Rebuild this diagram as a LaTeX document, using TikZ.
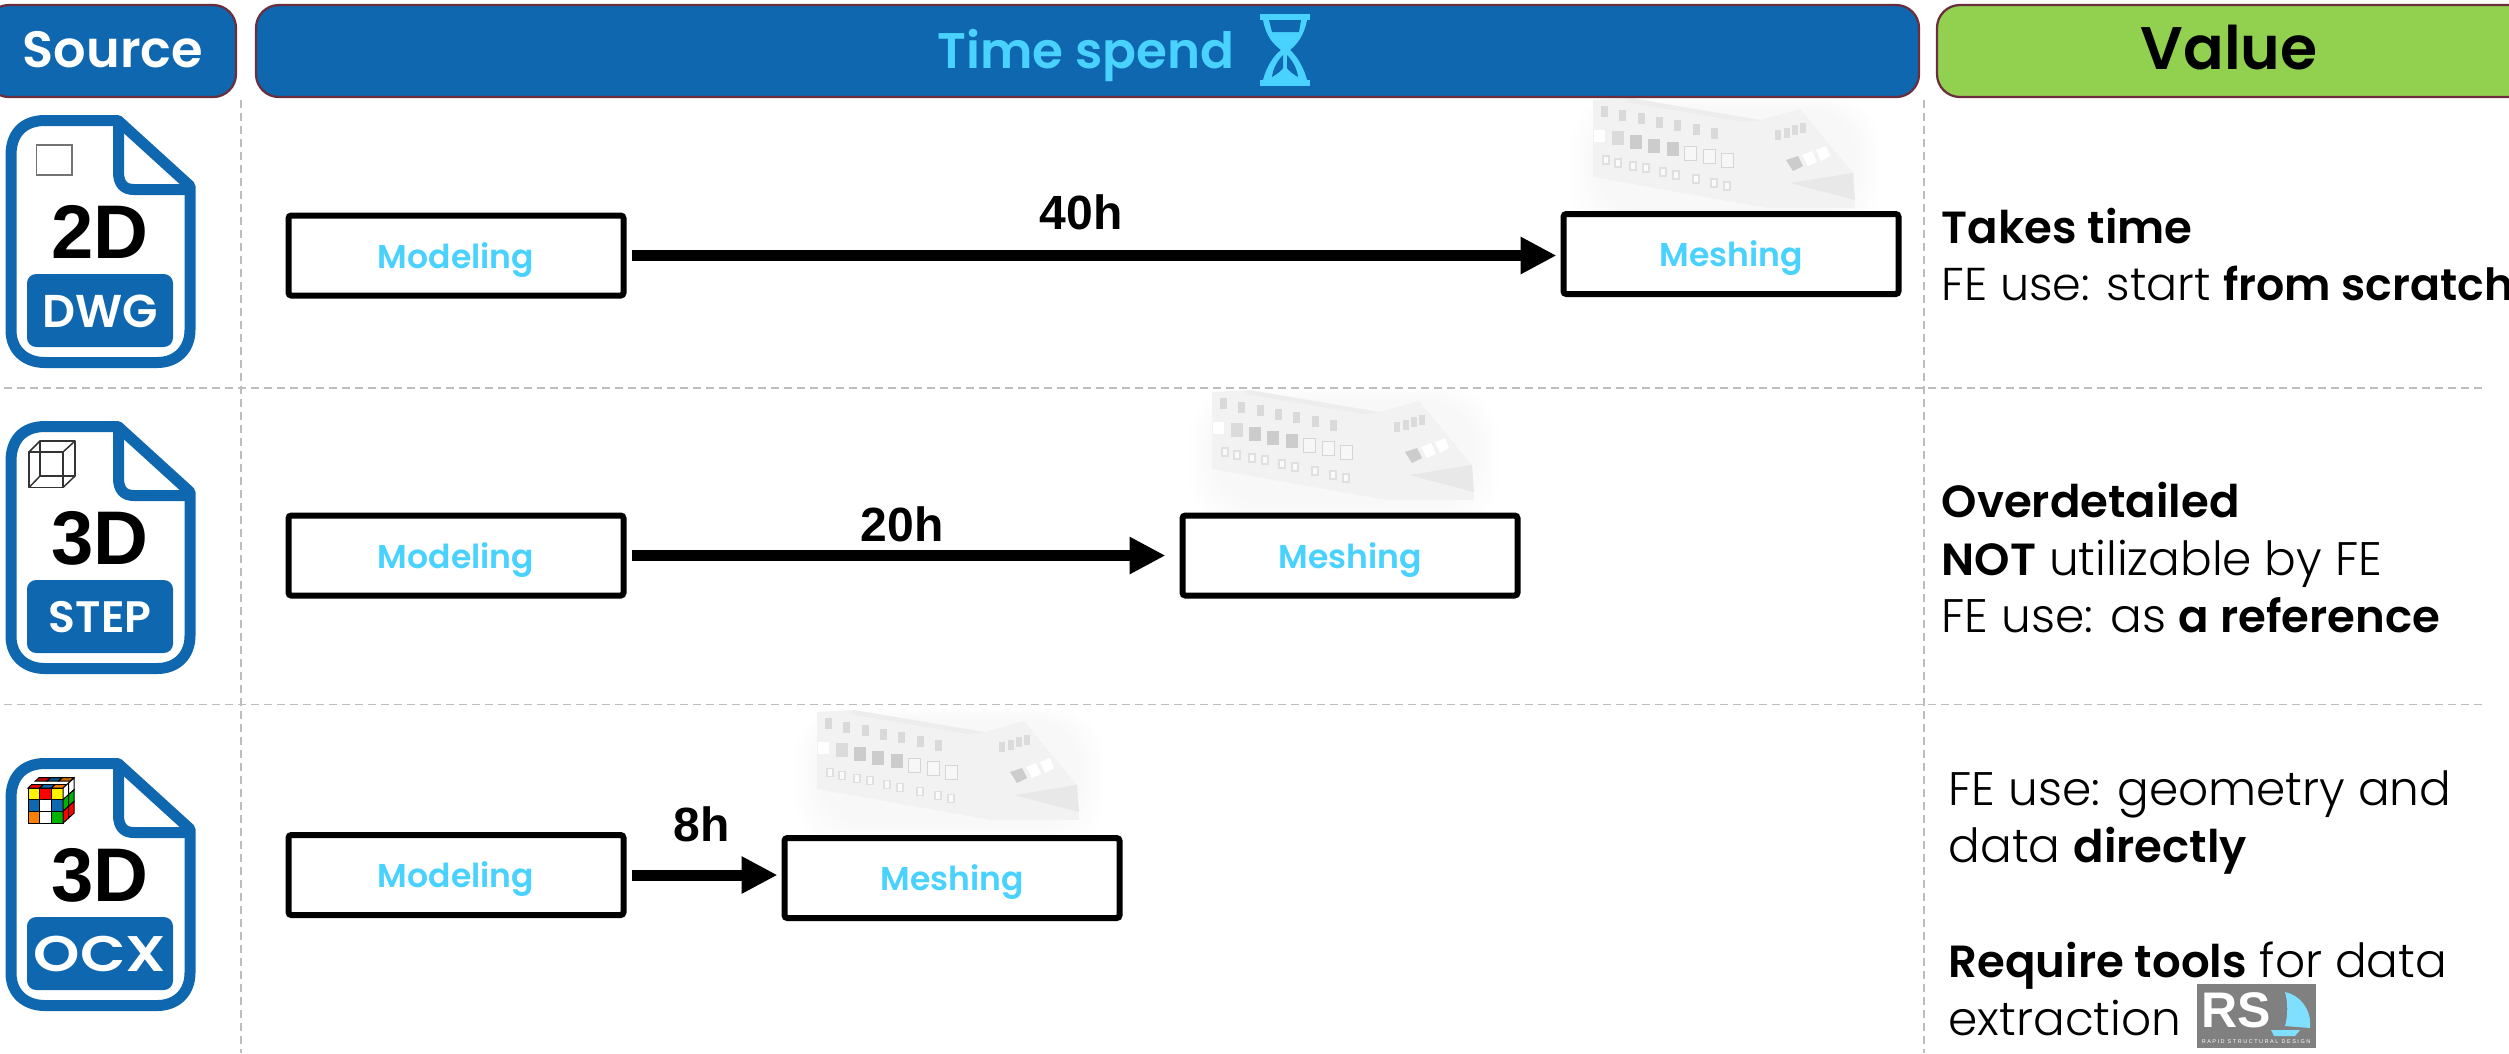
\documentclass[tikz,border=0pt]{standalone}
\usepackage{fontspec}
\usetikzlibrary{arrows.meta}
\setmainfont{Poppins}[UprightFont=*-Light,BoldFont=*-SemiBold]
\newfontfamily\headf{Poppins}[UprightFont=*-Medium,BoldFont=*-SemiBold]
\newfontfamily\iconf{Liberation Sans}
\newcommand\pxf[1]{\fontsize{\fpeval{#1*0.28453}pt}{\fpeval{#1*0.34}pt}\selectfont}
\newcommand\bt[1]{{\bfseries\pxf{45}#1}}
\definecolor{hblue}{HTML}{0E67AF}
\definecolor{hline}{HTML}{6B2E3E}
\definecolor{hgreen}{HTML}{92D050}
\definecolor{sky}{HTML}{4AD2FF}
\definecolor{dashc}{HTML}{BDBDBD}
\tikzset{
 hdr/.style={draw=hline,line width=1.6pt*0.4,rounded corners=6.5pt,inner sep=0pt,minimum height=92*0.01cm},
 stepbox/.style={draw=black,fill=white,line width=6*0.01cm,rounded corners=0.8pt,inner sep=0pt,minimum width=335*0.01cm,minimum height=80*0.01cm,text=sky,font=\headf\bfseries\pxf{33},text height=25*0.01cm,text depth=0pt},
 flow/.style={line width=11*0.01cm,-{Triangle[length=36*0.01cm,width=35*0.01cm]},shorten >=4*0.01cm,shorten <=5*0.01cm},
 hourtxt/.style={font=\iconf\bfseries\pxf{48},text=black,inner sep=0pt},
 vtxt/.style={anchor=base west,inner sep=0pt,font=\pxf{47}},
 gridline/.style={draw=dashc,line width=1.5*0.01cm,dash pattern=on 8*0.01cm off 5*0.01cm},
 iconline/.style={draw=hblue,line width=11*0.01cm,line join=round},
}
% file icon, drawn at row-1 pixel positions
\newcommand\fileicon[5]{%
 \begin{scope}[yshift=#1*-0.01cm]
  \draw[iconline] (118,120.5) -- (45,120.5) .. controls (22,120.5) and (11,135) .. (11,155) -- (11,330) .. controls (11,350) and (25,362.5) .. (45,362.5) -- (157,362.5) .. controls (178,362.5) and (190,348) .. (190,330) -- (190,186) -- cycle;
  \draw[iconline] (118.5,122) -- (118.5,172) .. controls (118.5,184) and (124,189.5) .. (134,189.5) -- (190,189.5);
  \fill[hblue,rounded corners=2.6pt] (27,274) rectangle (173,347);
  \node[inner sep=0pt,anchor=base,font=\iconf\bfseries\pxf{76}] (#2big) at (100,258) {#3};
  \node[inner sep=0pt,text=white,font=\headf\bfseries\pxf{#4}] (#2small) at (100,311) {#5};
 \end{scope}}
\newcommand\shipghost[2]{%
 \begin{scope}[shift={(#1,#2)}]
  \foreach \s in {0,...,6}
   \fill[black,opacity=.005,rounded corners=14pt] ({1570+\s*4},{96+\s*2}) rectangle ({1880-\s*4},{236-\s*4});
  \fill[black!5] (1593,100) -- (1630,98) -- (1760,120) -- (1800,109) -- (1853,173) -- (1855,208) -- (1767,208) -- (1593,177) -- cycle;
  \fill[black!7] (1630,98) -- (1760,120) -- (1745,122) -- (1625,102) -- cycle;
  \fill[black!9] (1790,183) -- (1853,173) -- (1855,200) -- cycle;
  \foreach \k in {0,...,6} \fill[black!15] ({1601+\k*18.3},{106+\k*3.6}) rectangle +(7,11);
  \fill[white] (1594,130) rectangle +(11,12);
  \fill[black!14] (1612,131) rectangle +(12,14);
  \foreach \k in {0,...,2} \fill[black!20] ({1630+\k*18.3},{135+\k*3.7}) rectangle +(12,14);
  \foreach \k in {3,...,5} \draw[black!16,fill=black!3,line width=.3pt] ({1630+\k*18.3},{135+\k*3.7}) rectangle +(12,14);
  \foreach \x/\y in {1606/160,1618/163,1633/166,1646/168,1663/172,1676/175,1696/179,1714/183,1727/186}
   \draw[black!12,fill=black!2,line width=.3pt] (\x-3,\y-4) rectangle +(6,8);
  \foreach \x/\y in {1778/135,1787/133,1795/130,1803/128} \fill[black!14] (\x-3,\y-5) rectangle +(6,10);
  \fill[black!20] (1786,160) -- (1798,156) -- (1803,166) -- (1793,171) -- cycle;
  \fill[white] (1802,155) -- (1812,151) -- (1817,162) -- (1808,166) -- cycle;
  \fill[white] (1816,150) -- (1826,146) -- (1830,156) -- (1821,161) -- cycle;
 \end{scope}}
\begin{document}
\begin{tikzpicture}[x=0.01cm,y=-0.01cm]
\useasboundingbox (0,0) rectangle (2509,1053);
\clip (0,0) rectangle (2509,1053);
% ghost parts
\shipghost{0}{0}
\shipghost{-381}{292}
\shipghost{-776}{612}
% grid
\draw[gridline] (241,100) -- (241,1053);
\draw[gridline] (1924,100) -- (1924,1053);
\draw[gridline] (4,388) -- (2483,388);
\draw[gridline] (4,704.5) -- (2483,704.5);
% headers
\node[hdr,fill=hblue,minimum width=250*0.01cm] (hsrc) at (111,51) {};
\node[text=white,font=\headf\bfseries\pxf{51},inner sep=0pt] (hsrctxt) at (113,50) {Source};
\node[hdr,fill=hblue,minimum width=1663*0.01cm] (htime) at (1087.5,51) {};
\node[text=sky,font=\headf\bfseries\pxf{50},inner sep=0pt,anchor=base west] (htimetxt) at (937,68) {Time spend};
\node[hdr,fill=hgreen,minimum width=600*0.01cm] (hval) at (2237,51) {};
\node[font=\headf\bfseries\pxf{60},inner sep=0pt] (hvaltxt) at (2229,48) {Value};
% hourglass
\fill[sky] (1260,14) rectangle (1310,20);
\fill[sky] (1260,80) rectangle (1310,86);
\fill[sky] (1263,20) .. controls (1266,36) and (1273,44) .. (1281,50) .. controls (1273,56) and (1266,68) .. (1263,80) -- (1307,80) .. controls (1304,68) and (1297,56) .. (1290,50) .. controls (1297,44) and (1304,36) .. (1307,20) -- cycle;
\fill[hblue] (1269,20) -- (1301,20) -- (1299,32) -- (1272,32) -- cycle;
\fill[hblue] (1283,55) .. controls (1278,60) and (1273,68) .. (1272,77) .. controls (1277,74) and (1281,71) .. (1283,68) -- cycle;
\fill[hblue] (1287,55) .. controls (1292,60) and (1297,68) .. (1298,77) .. controls (1293,74) and (1289,71) .. (1287,68) -- cycle;
% icons
\fileicon{0}{DWG}{2D}{46}{DWG}
\fileicon{306}{STEP}{3D}{44}{STEP}
\fileicon{643}{OCX}{3D}{50}{\scalebox{1.18}[1]{OCX}}
% icon glyphs
\draw[black!55,line width=1.5*0.01cm] (36.5,145) rectangle (72,175);
\begin{scope}[black!80,line width=1.5*0.01cm,line join=round]
 \draw (29,452) rectangle (63,487.5);
 \draw (40,441) rectangle (75,476);
 \draw (29,452) -- (40,441) (63,452) -- (75,441) (29,487.5) -- (40,476) (63,487.5) -- (75,476);
\end{scope}
\begin{scope}[line width=.7*0.01cm,draw=black]
 \foreach \i/\j/\c in {0/0/yellow,1/0/red,2/0/yellow,0/1/hblue,1/1/white,2/1/hblue,0/2/orange,1/2/white,2/2/green!70!black}
  \filldraw[fill=\c,line width=1*0.01cm] ({28+\i*11.7},{788+\j*11.7}) rectangle +(11.7,11.7);
 \foreach \i/\c in {0/red,1/hblue,2/orange}
  \filldraw[fill=\c,line width=1*0.01cm] ({28+\i*11.7},788) -- ++(11.7,0) -- ++(3.7,-3.5) -- ++(-11.7,0) -- cycle;
 \foreach \i/\c in {0/red,1/hblue,2/orange}
  \filldraw[fill=\c!80!black,line width=1*0.01cm] ({35.4+\i*11.7},781) -- ++(11.7,0) -- ++(3.7,-3.5) -- ++(-11.7,0) -- cycle;
 \foreach \i/\j/\c in {0/0/white,1/0/white,0/1/green!70!black,1/1/green!70!black,0/2/red,1/2/red}
  \filldraw[fill=\c,line width=1*0.01cm] ({63+\i*5.5},{788+\j*11.7-\i*5}) -- ++(5.5,-5) -- ++(0,11.7) -- ++(-5.5,5) -- cycle;
\end{scope}
% step boxes
\node[stepbox] (m1) at (456,255.5) {Modeling};
\node[stepbox] (s1) at (1731,254) {Meshing};
\node[stepbox] (m2) at (456,555.5) {Modeling};
\node[stepbox] (s2) at (1350,555.5) {Meshing};
\node[stepbox] (m3) at (456,875) {Modeling};
\node[stepbox] (s3) at (952,878) {Meshing};
% connectors
\draw[flow] (m1.east) -- (m1.east -| s1.west);
\draw[flow,shorten >=14*0.01cm] (m2.east) -- (m2.east -| s2.west);
\draw[flow] (m3.east) -- (m3.east -| s3.west);
\node[hourtxt] (t1) at (1081,212) {40h};
\node[hourtxt] (t2) at (902,524) {20h};
\node[hourtxt] (t3) at (702,824) {8h};
% value texts
\node[vtxt] (a1) at (1941,243) {\bt{Takes time}};
\node[vtxt,font=\pxf{46}] (a2) at (1941,300) {FE use: start {\bfseries\pxf{44.3}from scratch}};
\node[vtxt] (b1) at (1941,517) {\bt{Overdetailed}};
\node[vtxt] (b2) at (1941,575) {\bt{NOT} utilizable by FE};
\node[vtxt] (b3) at (1941,632) {FE use: as \bt{a reference}};
\node[vtxt] (c1) at (1948,805) {FE use: geometry and};
\node[vtxt] (c2) at (1948,862) {data \bt{directly}};
\node[vtxt] (c3) at (1948,977) {\bt{Require tools} for data};
\node[vtxt] (c4) at (1948,1035) {extraction};
% RSD logo
\fill[black!50] (2197,984) rectangle (2316,1048);
\node[text=white,font=\iconf\bfseries\pxf{50},inner sep=0pt,anchor=base west] (rs) at (2201,1027) {RS};
\fill[sky!70] (2285,992) .. controls (2300,995) and (2312,1010) .. (2310,1028) -- (2285,1026) .. controls (2288,1015) and (2288,1003) .. (2285,992) -- cycle;
\fill[sky!70] (2271,1030) -- (2300,1030) -- (2295,1036) -- (2274,1036) -- cycle;
\node[text=white,font=\iconf\pxf{5.5},inner sep=0pt] (rsd) at (2256,1042) {R A P I D\ \ S T R U C T U R A L\ \ D E S I G N};
\end{tikzpicture}
\end{document}
